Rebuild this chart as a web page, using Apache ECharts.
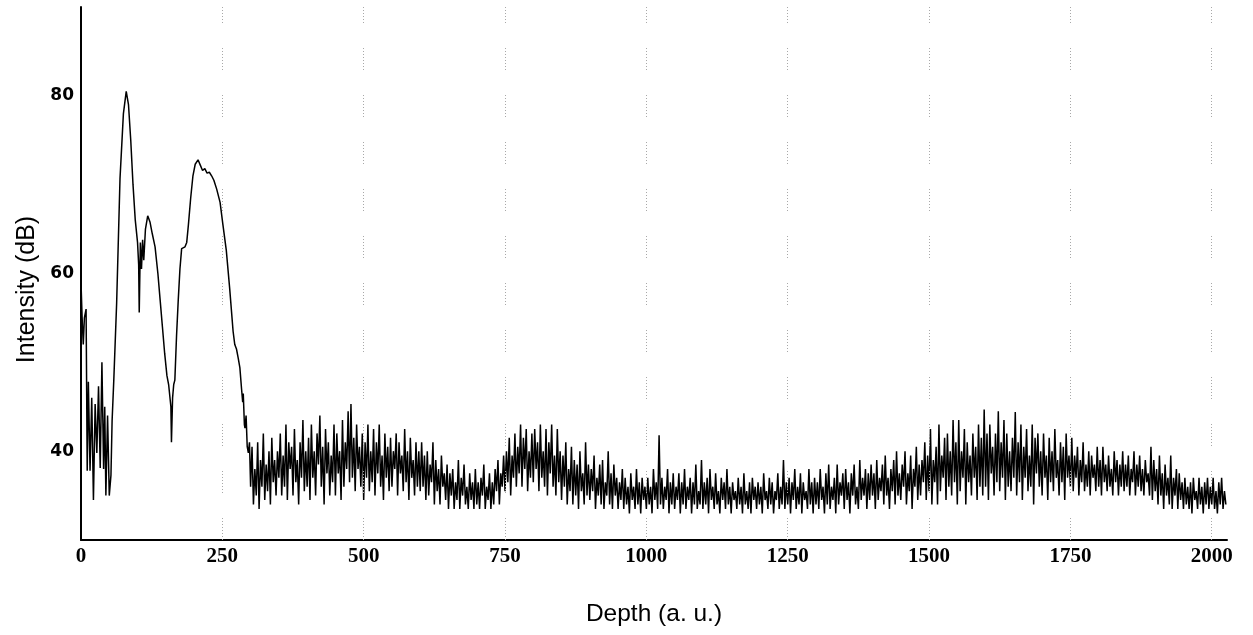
<!DOCTYPE html>
<html>
<head>
<meta charset="utf-8">
<script src="https://cdn.jsdelivr.net/npm/echarts@6/dist/echarts.min.js"></script>
<style>
html,body{margin:0;padding:0;background:#fff;}
#chart{width:1253px;height:635px;}
</style>
</head>
<body>
<div id="chart"></div>
<script>
// Near-surface region: depth and intensity pairs
const peakDepth = [0,2,4,6,9,11,13,16,19,22,25,28,31,34,37,40,42,44,47,50,53,55,58,63,69,75,80,84,88,92,96,100,102,103,105,107,109,111,114,118,122,126,131,136,140,144,148,152,155,157,159,160,162,164,166,169,172,175,178,181,184,187,190,194,198,202,207,211,215,219,223,227,231,235,240,246,251,257,263,269,272,275,278,281,284,286,287,289,290,292,294,296,298];
const peakIntensity = [59,55,52,55,56,37.8,47.8,37.8,46,34.5,45.3,39.8,47.3,38.1,50,38,45,35,44,35,37.3,43.4,48,56.6,70.7,78,80.5,79,75,70,66,63.5,61,55.6,63.5,60.5,63.8,61.5,65,66.5,65.8,64.5,63,60,57,54,51,48.5,47.5,47.5,45,41,46,47.5,48,53,57,60.5,62.8,62.6,63,63.5,65.5,68.5,71,72.3,72.8,72.2,71.6,71.8,71.3,71.4,71,70.5,69.5,68,65.5,62.6,58.3,53.5,52,51.5,50.5,49.4,47,45.5,46.5,43,42.6,44,40.5,39.8,41];

// Noisy region: uniform depth step
const noiseStart = 300;
const noiseStep = 2.5;
const noiseIntensity = [
36,40.5,34,38,35,41,33.5,39,36,42, 34.5,38.5,35.5,40,34,41.5,36.5,39,35,40,
37,42,35,39.5,36,43,34.5,41,38,40.5, 35,42.5,36.5,39,34,41,37,43.5,35.5,40,
36,41.5,34.5,43,37,40,35,42,38.5,44, 36,40.5,34,42.5,37.5,41,35,39.5,36.5,43,
35,42,37.5,40,34.5,43.5,36,41,38,44.5, 36.5,45.3,37,41.5,35.5,43,38,40.5,36,42,
34.5,41,37,43,35.5,40,36.5,42.5,35,41, 37.5,43,36,39.5,34.5,42,37,40.5,35.5,41.5,
36,40,38,42,35,41,37.5,39.5,35.5,42.5, 36.5,40,34.5,41.5,37,39,35,41,36,40,
35.5,41,36,39.5,34.5,40,35,38.5,36.5,41, 34,39,35.5,38,34,39.5,36,37.5,34.5,38.5,
33.5,37.5,35,38,33.5,36.5,34.5,39,33.5,37, 35,38.5,34,36,33.5,37.5,34.5,36.5,33.5,38,
34,36.5,33.5,37,35,38.5,33.5,36,34.5,37.5, 33.5,36.5,34,38,35.5,39,34,37.5,36,39.5,
35.5,40,36.5,41.5,35,39.5,37,42,36,40.5, 37.5,43,36,41.5,38,42.5,35.5,40,37,42,
36.5,42.5,38,41,35.5,43,37,40,36,42.5, 35,41,37.5,43,36,39.5,35,42.5,36.5,40,
34.5,39.5,36,41,34,38,35.5,40.5,34,39, 35,38.5,33.5,40,35.5,37.5,34,41,35,38.5,
34.5,38,35.5,39.5,33.5,37,35,38.5,34,39, 33.5,36.5,35,40,34,37.5,33.5,38.5,35,37,
33.5,36.5,34.5,38,33.5,37,34,36,33,37.5, 34.5,36,33.5,38,34,36.5,33,37,34.5,36,
33.5,37,34,36,33,38,34.5,36.5,33.5,41.8, 34,37,33.5,36,34.5,38,33,36.5,34,37.5,
33.5,36,34.5,37.5,33,36.5,34,38,33.5,36, 34.5,37,33,36.5,34,38.5,33.5,35.5,34,39,
33.5,36.5,34,37,33,38,34.5,36,33.5,37.5, 34,35.5,33,37,34.5,36.5,33.5,38,34,36,
33,36.5,34.5,35.5,33.5,37,34,36,33,37.5, 34,35.5,33.5,36.5,33,37,34.5,36,33.5,36.5,
34,36,33,37.5,34.5,35.5,33.5,37,34,36.5, 33,35.5,34.5,37.5,33.5,36,34,39,33.5,36.5,
34,37,33,36.5,34.5,38,33.5,36,34,37.5, 33,36.5,34.5,35.5,33.5,38,34,36.5,33,37,
34,36.5,33.5,38,34.5,36,33,37.5,34,38.5, 33.5,36,34.5,37,33,38.5,34,36.5,35,37.5,
33.5,38,34.5,36.5,33,37.5,35,38.5,34,36, 33.5,39,34.5,37,35,38,33.5,37.5,34.5,38.5,
35,37.5,33.5,39,34.5,37,35.5,38.5,34,39.5, 35,37,33.5,38,35.5,39,34,40,35,37.5,
34.5,38.5,36,40,34,37.5,35.5,39.5,33.5,38, 36,40.5,34.5,38.5,35,39,36.5,41,34.5,39.5,
35.5,42.5,34,39,36.5,40.5,34,43,35.5,39.5, 37,41.5,34.5,42,36,40,35,43.5,36.5,41,
34,43.5,35.5,40,37,42.5,34,41,36.5,39.5, 35,42,37,40.5,34.5,43,36,41.5,35,44.7,
36,42,34.5,43,37.5,40.5,35,42,36.5,44.5, 35.5,41,37,43.5,34.5,42,36,40,35.5,41.5,
37,44.4,35,41,36.5,43,34.5,40.5,37,42.5, 35.5,39.5,36,43,34,41.5,37.5,42,36,40,
35,42,37,39.5,34.5,41.5,36.5,40,35.5,42.5, 37,39,35,41,36.5,40.5,34.5,42,37,39.5,
36,41.5,35.5,39.5,37,40.5,35,39,36.5,41, 35.5,38.5,36,40,35,39.5,37,38.5,35.5,40.5,
36,39,35,40.5,36.5,38.5,35.5,39.5,36,38, 35,40,36.5,39,35,38.5,36,40,35.5,38.5,
36,39.5,35,38,36.5,40,35,38.5,36,39.5, 35.5,38,35,39,36.5,37.5,35,40.5,34.5,39,
35.5,38,34,39.5,35,37.5,33.5,38.5,35,37, 34,39.5,33.5,37,35,38,33.5,37.5,34.5,36.5,
33.5,37,34,36,33.5,36.5,33,37,34.5,35.5, 33.5,37,34,36,33,36.5,34,37,33.5,36,
34,37,33.5,35.5,33,36.5,34,37,33.5,35.5, 34
];

const xTicks = [0,250,500,750,1000,1250,1500,1750,2000];
const yTickLabels = [40,60,80];
const xMax = 2027;

const seriesData = [];
for (let i = 0; i < peakDepth.length; i++) seriesData.push([peakDepth[i], peakIntensity[i]]);
for (let i = 0; i < noiseIntensity.length; i++) seriesData.push([noiseStart + i * noiseStep, noiseIntensity[i]]);

const chart = echarts.init(document.getElementById('chart'), null, {renderer: 'canvas'});
chart.setOption({
  animation: false,
  backgroundColor: '#ffffff',
  grid: {left: 81, right: 26, top: 7, bottom: 95, outerBoundsMode: 'none'},
  xAxis: {
    type: 'value', min: 0, max: xMax, interval: 250,
    name: 'Depth (a. u.)', nameLocation: 'middle', nameGap: 62,
    nameTextStyle: {fontFamily: 'Liberation Sans', fontSize: 24.5, color: '#000'},
    axisLine: {show: true, lineStyle: {color: '#000', width: 2}},
    axisTick: {show: false},
    splitLine: {show: false},
    axisLabel: {
      margin: 6, color: '#000', fontFamily: 'Liberation Serif', fontWeight: 'bold', fontSize: 21,
      formatter: v => (xTicks.indexOf(v) >= 0 ? String(v) : '')
    }
  },
  yAxis: {
    type: 'value', min: 30, max: 90, interval: 10,
    name: 'Intensity (dB)', nameLocation: 'middle', nameGap: 41, nameRotate: 90,
    nameTextStyle: {fontFamily: 'Liberation Sans', fontSize: 25, color: '#000', padding: [0, 32, 0, 0]},
    axisLine: {show: true, lineStyle: {color: '#000', width: 2}},
    axisTick: {show: false},
    splitLine: {show: false},
    axisLabel: {
      margin: 7, color: '#000', fontFamily: 'DejaVu Sans', fontWeight: 'bold', fontSize: 17,
      formatter: v => (yTickLabels.indexOf(v) >= 0 ? String(v) : '')
    }
  },
  series: [
    {
      type: 'line', data: [], z: 1, silent: true,
      markLine: {
        symbol: 'none', silent: true, label: {show: false},
        lineStyle: {color: '#a8a8a8', width: 1, type: [1,2,1,2,1,2,1,2,1,2,1,2,1,2,1,25]},
        data: xTicks.filter(t => t > 0).map(t => ({xAxis: t}))
      }
    },
    {
      type: 'line', data: seriesData, z: 3, showSymbol: false, symbol: 'none',
      lineStyle: {color: '#000', width: 1.5}
    }
  ]
});
</script>
</body>
</html>
